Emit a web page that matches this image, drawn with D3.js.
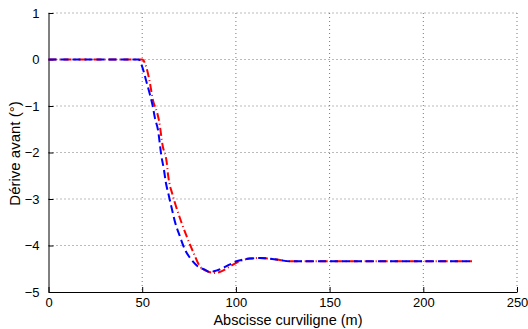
<!DOCTYPE html>
<html>
<head>
<meta charset="utf-8">
<script src="https://cdn.jsdelivr.net/npm/d3@7"></script>
<style>
  body { margin: 0; background: #fff; }
  text { font-family: "Liberation Sans", Arial, sans-serif; }
</style>
</head>
<body>
<div id="chart"></div>
<script>
var xTicks = [0, 50, 100, 150, 200, 250];
var yTicks = [1, 0, -1, -2, -3, -4, -5];

// red dash-dot curve
var redX = [0, 50, 52.3, 54.1, 55.7, 57.8, 58.9, 61, 63, 63.9, 66.2, 68.3, 71, 73.7, 77, 80.8, 84.5, 88.8, 92.5, 96.8, 102, 107.4, 112.7, 121.6, 128.7, 140, 226];
var redY = [0, 0, -0.18, -0.5, -0.87, -1.12, -1.3, -1.87, -2.19, -2.51, -2.91, -3.19, -3.51, -3.8, -4.12, -4.45, -4.55, -4.59, -4.55, -4.45, -4.34, -4.28, -4.27, -4.3, -4.34, -4.34, -4.34];

// blue dashed curve
var blueX = [0, 48, 49.7, 52, 53.7, 55.5, 56.8, 58.4, 60.3, 61.6, 62.6, 64.1, 65.7, 67.4, 70.1, 72.8, 75.4, 79.7, 83.4, 86, 89.5, 93.2, 100.3, 107.4, 112.7, 121.6, 128.7, 140, 226];
var blueY = [0, 0, -0.12, -0.44, -0.69, -0.98, -1.26, -1.51, -2.09, -2.37, -2.64, -2.91, -3.19, -3.48, -3.8, -4.09, -4.26, -4.45, -4.52, -4.57, -4.54, -4.48, -4.34, -4.28, -4.27, -4.3, -4.34, -4.34, -4.34];

var width = 528, height = 329;
var margin = { top: 13, left: 48.5, right: 11, bottom: 37 };

var svg = d3.select("#chart").append("svg")
            .attr("width", width)
            .attr("height", height);

var x = d3.scaleLinear().domain([0, 250]).range([margin.left, width - margin.right]);
var y = d3.scaleLinear().domain([-5, 1]).range([height - margin.bottom, margin.top]);

// dotted grid
svg.append("g")
   .selectAll("line")
   .data(xTicks.slice(1))
   .enter().append("line")
   .attr("x1", d => x(d)).attr("x2", d => x(d))
   .attr("y1", y(1)).attr("y2", y(-5))
   .attr("stroke", "#777")
   .attr("stroke-width", 1)
   .attr("stroke-dasharray", "1,3");

svg.append("g")
   .selectAll("line")
   .data(yTicks.slice(0, -1))
   .enter().append("line")
   .attr("x1", x(0)).attr("x2", x(250))
   .attr("y1", d => y(d)).attr("y2", d => y(d))
   .attr("stroke", "#777")
   .attr("stroke-width", 1)
   .attr("stroke-dasharray", "1,3");

// axes, ticks pointing inward
var fmt = d => d < 0 ? "\u2212" + Math.abs(d) : String(d);

var xAxis = svg.append("g")
   .attr("transform", "translate(0," + y(-5) + ")")
   .call(d3.axisBottom(x).tickValues(xTicks).tickSizeInner(-5).tickSizeOuter(0).tickPadding(6).tickFormat(fmt));

var yAxis = svg.append("g")
   .attr("transform", "translate(" + x(0) + ",0)")
   .call(d3.axisLeft(y).tickValues(yTicks).tickSizeInner(-5).tickSizeOuter(0).tickPadding(9).tickFormat(fmt));

[xAxis, yAxis].forEach(a => {
  a.select(".domain").attr("stroke", "#000").attr("stroke-width", 1);
  a.selectAll(".tick line").attr("stroke", "#000");
  a.selectAll(".tick text").attr("font-size", 13).attr("fill", "#000")
   .style("font-family", "'Liberation Sans', Arial, sans-serif");
});

var line = d3.line().x(d => x(d[0])).y(d => y(d[1])).curve(d3.curveMonotoneX);

svg.append("path")
   .datum(redX.map((d, i) => [d, redY[i]]))
   .attr("d", line)
   .attr("fill", "none")
   .attr("stroke", "#ff0000")
   .attr("stroke-width", 2)
   .attr("stroke-dasharray", "8,3,1,3");

svg.append("path")
   .datum(blueX.map((d, i) => [d, blueY[i]]))
   .attr("d", line)
   .attr("fill", "none")
   .attr("stroke", "#0000ff")
   .attr("stroke-width", 2)
   .attr("stroke-dasharray", "8,4");

svg.append("text")
   .attr("x", 288)
   .attr("y", 325)
   .attr("text-anchor", "middle")
   .attr("font-size", 14.5)
   .text("Abscisse curviligne (m)");

svg.append("text")
   .attr("transform", "translate(20,153.5) rotate(-90)")
   .attr("text-anchor", "middle")
   .attr("font-size", 15)
   .text("D\u00e9rive avant (\u00b0)");
</script>
</body>
</html>
